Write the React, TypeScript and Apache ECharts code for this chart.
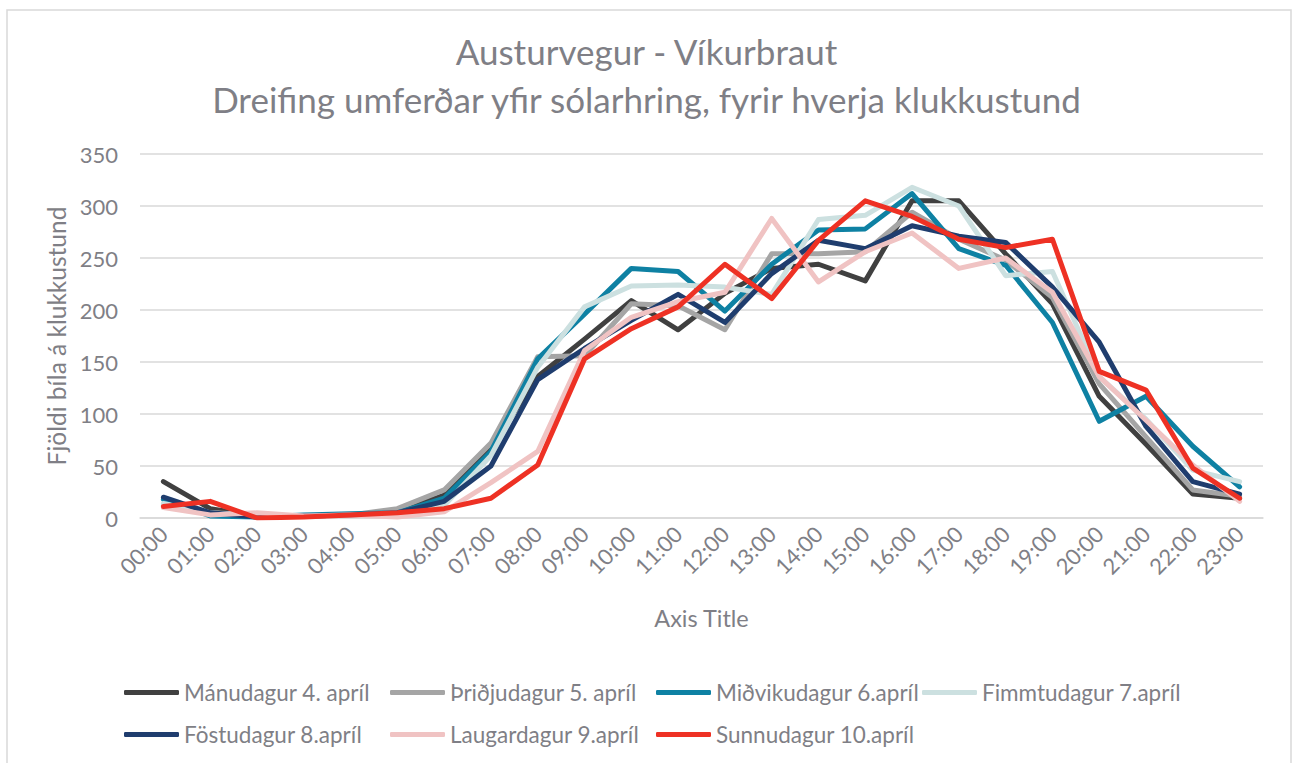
import React, { useEffect, useRef } from "react";
import * as echarts from "echarts";

const hours = [
  "00:00", "01:00", "02:00", "03:00", "04:00", "05:00", "06:00", "07:00",
  "08:00", "09:00", "10:00", "11:00", "12:00", "13:00", "14:00", "15:00",
  "16:00", "17:00", "18:00", "19:00", "20:00", "21:00", "22:00", "23:00",
];

const seriesNames = [
  "Mánudagur 4. apríl",
  "Þriðjudagur 5. apríl",
  "Miðvikudagur 6.apríl",
  "Fimmtudagur 7.apríl",
  "Föstudagur 8.apríl",
  "Laugardagur 9.apríl",
  "Sunnudagur 10.apríl",
];

const manudagur = [35, 9, 2, 2, 3, 6, 22, 68, 136, 172, 209, 181, 216, 240, 244, 228, 305, 305, 254, 206, 117, 71, 23, 19];
const thridjudagur = [12, 5, 3, 2, 3, 9, 27, 72, 155, 156, 206, 204, 181, 254, 254, 256, 294, 268, 248, 212, 129, 78, 27, 21];
const midvikudagur = [18, 2, 1, 3, 4, 5, 19, 64, 153, 196, 240, 237, 199, 244, 277, 278, 312, 259, 243, 188, 93, 117, 69, 30];
const fimmtudagur = [14, 5, 2, 2, 3, 5, 12, 60, 145, 203, 223, 224, 222, 215, 287, 291, 318, 300, 233, 237, 136, 95, 46, 35];
const fostudagur = [20, 5, 1, 2, 3, 5, 16, 50, 133, 163, 190, 215, 188, 235, 267, 259, 281, 271, 265, 222, 169, 88, 35, 23];
const laugardagur = [10, 3, 5, 2, 3, 1, 6, 34, 64, 161, 193, 208, 217, 288, 227, 256, 274, 240, 250, 217, 136, 94, 51, 16];
const sunnudagur = [11, 16, 0, 1, 3, 5, 9, 19, 51, 153, 182, 203, 244, 211, 267, 305, 290, 268, 260, 268, 141, 123, 48, 19];

const allValues = [manudagur, thridjudagur, midvikudagur, fimmtudagur, fostudagur, laugardagur, sunnudagur];
const colors = ["#404040", "#A5A5A5", "#0E81A3", "#CCE0E0", "#1F3D6E", "#F0C3C3", "#EE3124"];

const FONT = "Lato";
const TEXT = "#7F7F86";

export default function App() {
  const ref = useRef<HTMLDivElement>(null);

  useEffect(() => {
    if (!ref.current) return;
    const chart = echarts.init(ref.current, null, { renderer: "svg" });

    const legendPos = [
      { left: 119, top: 676 },
      { left: 385, top: 676 },
      { left: 651, top: 676 },
      { left: 917, top: 676 },
      { left: 119, top: 718 },
      { left: 385, top: 718 },
      { left: 651, top: 718 },
    ];

    chart.setOption({
      animation: false,
      textStyle: { fontFamily: FONT },
      title: [
        {
          text: "Austurvegur - Víkurbraut",
          left: "center",
          top: 28,
          textStyle: { fontFamily: FONT, fontSize: 35, fontWeight: "normal", color: TEXT },
        },
        {
          text: "Dreifing umferðar yfir sólarhring, fyrir hverja klukkustund",
          left: "center",
          top: 76,
          textStyle: { fontFamily: FONT, fontSize: 35, fontWeight: "normal", color: TEXT },
        },
      ],
      graphic: [
        {
          type: "rect",
          shape: { x: 7, y: 10, width: 1284, height: 760 },
          style: { fill: "none", stroke: "#D9D9D9", lineWidth: 1.5 },
          silent: true,
          z: -10,
        },
      ],
      legend: seriesNames.map((name, i) => ({
        data: [name],
        left: legendPos[i].left,
        top: legendPos[i].top,
        icon: "roundRect",
        itemWidth: 55,
        itemHeight: 5,
        textStyle: { fontFamily: FONT, fontSize: 22.5, color: TEXT },
      })),
      grid: { left: 140, right: 30, top: 154, bottom: 245, containLabel: false },
      xAxis: {
        type: "category",
        data: hours,
        boundaryGap: true,
        name: "Axis Title",
        nameLocation: "middle",
        nameGap: 88,
        nameTextStyle: { fontFamily: FONT, fontSize: 23.5, color: TEXT },
        axisLine: { show: true, lineStyle: { color: "#D9D9D9", width: 1.5 } },
        axisTick: { show: false },
        axisLabel: { rotate: 45, margin: 12, fontFamily: FONT, fontSize: 22, color: TEXT, interval: 0 },
      },
      yAxis: {
        type: "value",
        min: 0,
        max: 350,
        interval: 50,
        name: "Fjöldi bíla á klukkustund",
        nameLocation: "middle",
        nameGap: 70,
        nameRotate: 90,
        nameTextStyle: { fontFamily: FONT, fontSize: 24.5, color: TEXT },
        axisLine: { show: false },
        axisTick: { show: false },
        axisLabel: { margin: 22, fontFamily: FONT, fontSize: 22, color: TEXT },
        splitLine: { lineStyle: { color: "#D9D9D9", width: 1.5 } },
      },
      series: seriesNames.map((name, i) => ({
        name,
        type: "line",
        data: allValues[i],
        symbol: "none",
        color: colors[i],
        lineStyle: { width: 5, color: colors[i], cap: "round", join: "round" },
      })),
    });

    return () => chart.dispose();
  }, []);

  return <div ref={ref} style={{ width: 1293, height: 763, position: "absolute", left: 0, top: 0, background: "#fff" }} />;
}
